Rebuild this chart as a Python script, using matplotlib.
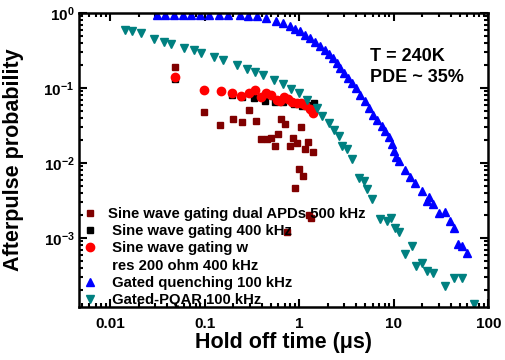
import math
import matplotlib
matplotlib.use('Agg')
import matplotlib.pyplot as plt
from matplotlib.lines import Line2D
from matplotlib.ticker import FuncFormatter, LogLocator, NullFormatter

plt.rcParams['font.family'] = ['Liberation Sans', 'DejaVu Sans']
plt.rcParams['font.weight'] = 'bold'
plt.rcParams['mathtext.fontset'] = 'custom'
plt.rcParams['mathtext.bf'] = 'Liberation Sans:bold'
plt.rcParams['mathtext.rm'] = 'Liberation Sans:bold'

# Sine wave gating dual APDs 500 kHz
dual_t = [0.0487, 0.0971, 0.146, 0.197, 0.248, 0.296, 0.347, 0.396, 0.453, 0.499,
          0.550, 0.600, 0.645, 0.699, 0.793, 0.853, 0.945, 1.04, 1.16, 1.25,
          1.39, 0.983, 1.09, 0.892, 1.28, 1.34, 0.741]
dual_p = [0.189, 0.0483, 0.0318, 0.0386, 0.0349, 0.0514, 0.0363, 0.0207, 0.0206, 0.0213,
          0.0169, 0.0244, 0.0383, 0.0331, 0.0169, 0.0213, 0.0185, 0.0299, 0.0154, 0.0192,
          0.0142, 0.00824, 0.00661, 0.00460, 0.00203, 0.00185, 0.00122]

# Sine wave gating 400 kHz
sine_t = [0.0487, 0.194, 0.248, 0.328, 0.437, 0.557, 0.677, 0.871, 1.07, 1.21, 1.42]
sine_p = [0.132, 0.0807, 0.0766, 0.0729, 0.0677, 0.0657, 0.0654, 0.0612, 0.0575, 0.0602, 0.0625]

# Sine wave gating w res 200 ohm 400 kHz
res_t = [0.0487, 0.0971, 0.147, 0.195, 0.243, 0.292, 0.342, 0.396, 0.448, 0.499,
         0.578, 0.630, 0.682, 0.756, 0.837, 0.936, 1.04, 1.16, 1.29, 1.39]
res_p = [0.139, 0.0949, 0.0921, 0.0866, 0.0770, 0.0858, 0.0932, 0.0766, 0.0858, 0.0794,
         0.0681, 0.0661, 0.0747, 0.0703, 0.0657, 0.0637, 0.0621, 0.0584, 0.0525, 0.0469]

# Gated quenching 100 kHz
gq_t = [0.0314, 0.0382, 0.0475, 0.0592, 0.0720, 0.0896, 0.112, 0.143, 0.177, 0.238,
        0.289, 0.359, 0.448, 0.571, 0.677, 0.803, 0.908, 1.02, 1.16, 1.31,
        1.48, 1.67, 1.88, 2.05, 2.29, 2.52, 2.72, 2.99, 3.26, 3.59,
        4.01, 4.42, 5.00, 5.43, 6.06, 6.68, 7.47, 8.13, 8.95, 9.64,
        10.1, 10.6, 11.4, 13.2, 15.0, 16.9, 19.8, 22.6, 23.5, 25.9,
        29.9, 35.1, 39.1, 43.1, 47.5, 52.4, 59.9]
gq_p = [0.95, 0.95, 0.95, 0.945, 0.945, 0.94, 0.94, 0.94, 0.93, 0.93,
        0.92, 0.90, 0.85, 0.79, 0.73, 0.665, 0.615, 0.568, 0.510, 0.458,
        0.412, 0.365, 0.323, 0.286, 0.249, 0.217, 0.186, 0.160, 0.137, 0.118,
        0.0993, 0.0815, 0.0668, 0.0548, 0.0442, 0.0373, 0.0316, 0.0263, 0.0219, 0.0177,
        0.0143, 0.0119, 0.0105, 0.00810, 0.00644, 0.00544, 0.00426, 0.00314, 0.00349, 0.00282,
        0.00217, 0.00224, 0.00170, 0.00137, 0.000830, 0.000780, 0.000640]

# Gated-PQAR 100 kHz
pq_t = [0.0144, 0.0170, 0.0211, 0.0287, 0.0366, 0.0442, 0.0597, 0.0762, 0.0912, 0.124,
        0.154, 0.219, 0.279, 0.342, 0.413, 0.535, 0.673, 0.817, 0.983, 1.21,
        1.54, 1.74, 2.04, 2.31, 2.60, 2.83, 3.20, 3.61, 4.24, 4.80,
        5.20, 5.88, 7.20, 8.47, 9.40, 10.4, 11.4, 13.2, 15.6, 17.3,
        19.9, 22.4, 26.0, 35.1, 43.6, 52.7, 69.8]
pq_p = [0.594, 0.577, 0.537, 0.452, 0.408, 0.384, 0.346, 0.316, 0.292, 0.258,
        0.238, 0.204, 0.180, 0.163, 0.150, 0.126, 0.113, 0.098, 0.0859, 0.0700,
        0.0543, 0.0420, 0.0343, 0.0279, 0.0228, 0.0168, 0.0152, 0.0112, 0.00638, 0.00575,
        0.00446, 0.00329, 0.00178, 0.00168, 0.00184, 0.00134, 0.00121, 0.000611, 0.000787, 0.000420,
        0.000464, 0.000367, 0.000342, 0.000232, 0.000290, 0.000290, 0.000133]

xtick_vals = [0.01, 0.1, 1, 10, 100]
xtick_labels = ['0.01', '0.1', '1', '10', '100']

fig = plt.figure(figsize=(5.05, 3.6), dpi=100)
ax = fig.add_axes([0.157, 0.147, 0.81, 0.817])

ax.plot(dual_t, dual_p, 's', color='#800000', ms=5,
        label='Sine wave gating dual APDs 500 kHz')
ax.plot(sine_t, sine_p, 's', color='black', ms=5, label=' Sine wave gating 400 kHz')
ax.plot(res_t, res_p, 'o', color='#ff0000', ms=6, label=' Sine wave gating w')
ax.plot(gq_t, gq_p, '^', color='#0000ff', ms=6, label=' Gated quenching 100 kHz')
ax.plot(pq_t, pq_p, 'v', color='#008080', ms=6, label=' Gated-PQAR 100 kHz')

ax.set_xscale('log')
ax.set_yscale('log')
ax.set_xlim(0.0047, 100)
ax.set_ylim(1.2e-4, 1.0)

ax.set_xticks(xtick_vals)
ax.set_xticklabels(xtick_labels)
ax.xaxis.set_minor_locator(LogLocator(base=10, subs=range(2, 10), numticks=20))
ax.xaxis.set_minor_formatter(NullFormatter())
ax.yaxis.set_major_locator(LogLocator(base=10, numticks=10))
ax.yaxis.set_minor_locator(LogLocator(base=10, subs=range(2, 10), numticks=20))
ax.yaxis.set_minor_formatter(NullFormatter())
ax.yaxis.set_major_formatter(FuncFormatter(
    lambda v, pos: r'$\mathbf{10^{%d}}$' % round(math.log10(v))))

ax.tick_params(which='both', direction='in', top=True, right=True, width=1.5,
               labelsize=11)
ax.tick_params(which='major', length=6)
ax.tick_params(which='minor', length=3)
ax.tick_params(axis='x', pad=7)
for s in ax.spines.values():
    s.set_linewidth(1.8)

ax.set_xlabel('Hold off time (\u03bcs)', fontsize=15.5, fontweight='bold', labelpad=1)
ax.set_ylabel('Afterpulse probability', fontsize=15.5, fontweight='bold')
ax.yaxis.set_label_coords(-0.135, 0.5)

ax.text(0.71, 0.882, 'T = 240K\nPDE ~ 35%', transform=ax.transAxes,
        fontsize=13, fontweight='bold', va='top', ha='left', linespacing=1.35)

handles, labels = ax.get_legend_handles_labels()
blank = Line2D([], [], linestyle='none', marker='')
handles = handles[:3] + [blank] + handles[3:]
labels = labels[:3] + [' res 200 ohm 400 kHz'] + labels[3:]
ax.legend(handles, labels, loc='lower left', bbox_to_anchor=(0.0086, 0.0),
          frameon=False, fontsize=10.7, borderpad=0, borderaxespad=0,
          handlelength=0.95, handletextpad=0.75, labelspacing=0.22, numpoints=1)

plt.savefig('out.png', dpi=100)
